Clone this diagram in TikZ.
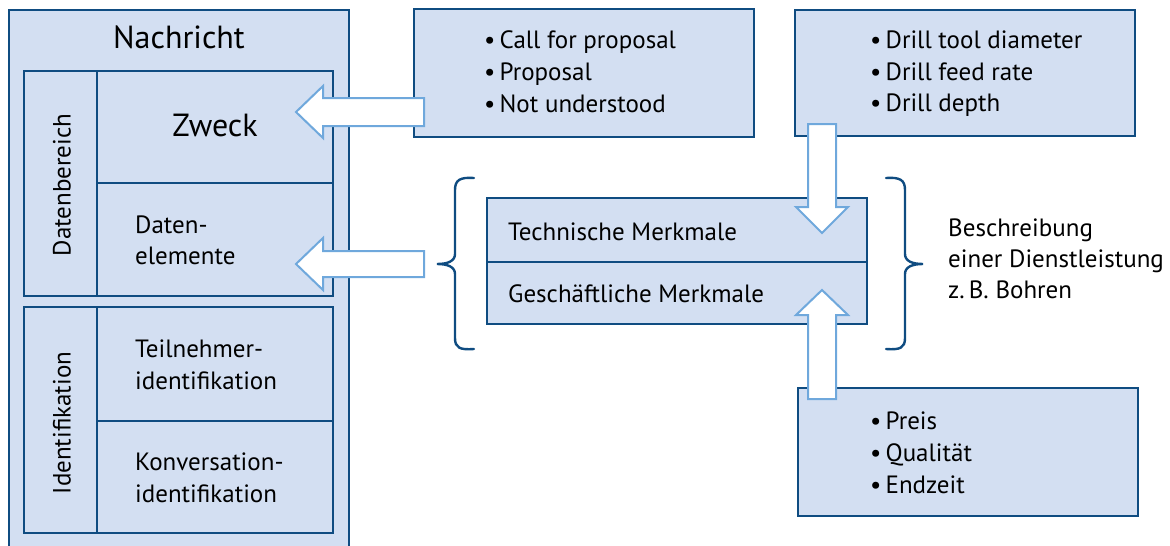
\documentclass[tikz,border=0pt]{standalone}
\usepackage{fontspec}
\setmainfont{PT Sans}
\definecolor{boxfill}{HTML}{D3DFF2}
\definecolor{boxline}{HTML}{0F4C81}
\definecolor{arrowline}{HTML}{6FA8DC}
\begin{document}
\begin{tikzpicture}[x=1pt,y=-1pt,
  box/.style={draw=boxline, fill=boxfill, line width=2.4pt, inner sep=0pt, outer sep=0pt},
  cell/.style={draw=boxline, line width=2.4pt},
  txt/.style={inner sep=0pt, anchor=base west, font=\fontsize{25}{31}\selectfont},
  vlabel/.style={inner sep=0pt, rotate=90, font=\fontsize{25}{31}\selectfont},
  barrow/.style={draw=arrowline, fill=white, line width=2pt, line join=miter},
  brace/.style={draw=boxline, line width=2.4pt, line cap=round}]
\useasboundingbox (0,0) rectangle (1170,546);

% outer message frame (continues past the lower edge)
\begin{scope}
\clip (0,0) rectangle (1170,546);
\node[box, minimum width=340pt, minimum height=560pt, anchor=north west] (msg) at (9,10) {};
\end{scope}
\node[inner sep=0pt, anchor=base, font=\fontsize{32}{38}\selectfont] (msgtitle) at (179,48) {Nachricht};

% data area
\node[box, minimum width=309pt, minimum height=225pt, anchor=north west] (data) at (24,71) {};
\draw[cell] (97,71) -- (97,296);
\draw[cell] (97,183) -- (333,183);
\node[vlabel] (datalabel) at (62,185) {Datenbereich};
\node[inner sep=0pt, anchor=base, font=\fontsize{32}{38}\selectfont] (zweck) at (215,136) {Zweck};
\node[txt] (daten1) at (135,233) {Daten-};
\node[txt] (daten2) at (135,264) {elemente};

% identification area
\node[box, minimum width=309pt, minimum height=226pt, anchor=north west] (ident) at (24,307) {};
\draw[cell] (97,307) -- (97,533);
\draw[cell] (97,421) -- (333,421);
\node[vlabel] (identlabel) at (62,423) {Identifikation};
\node[txt] (teil1) at (135,357) {Teilnehmer-};
\node[txt] (teil2) at (135,389) {identifikation};
\node[txt] (konv1) at (135,470) {Konversation-};
\node[txt] (konv2) at (135,502) {identifikation};

% performatives
\node[box, minimum width=340pt, minimum height=128pt, anchor=north west] (perf) at (414,9) {};
\node[txt] (perf1) at (484,48) {•\,Call for proposal};
\node[txt] (perf2) at (484,80) {•\,Proposal};
\node[txt] (perf3) at (484,112) {•\,Not understood};

% technical parameters
\node[box, minimum width=340pt, minimum height=126pt, anchor=north west] (drill) at (795,10) {};
\node[txt] (drill1) at (870,48) {•\,Drill tool diameter};
\node[txt] (drill2) at (870,80) {•\,Drill feed rate};
\node[txt] (drill3) at (870,111) {•\,Drill depth};

% commercial parameters
\node[box, minimum width=340pt, minimum height=128pt, anchor=north west] (price) at (798,388) {};
\node[txt] (price1) at (870,429) {•\,Preis};
\node[txt] (price2) at (870,461) {•\,Qualität};
\node[txt] (price3) at (870,493) {•\,Endzeit};

% service description
\node[box, minimum width=380pt, minimum height=126pt, anchor=north west] (service) at (487,198) {};
\draw[cell] (487,262) -- (867,262);
\node[txt] (tech) at (508,240) {Technische Merkmale};
\node[txt] (biz) at (508,302) {Geschäftliche Merkmale};

% braces around the service description
\draw[brace] (474,178) .. controls (460,177) and (455,180) .. (455,190) -- (455,254)
  .. controls (455,261) and (448,264) .. (437,264)
  .. controls (448,264) and (455,267) .. (455,274) -- (455,338)
  .. controls (455,348) and (460,350) .. (474,349);
\draw[brace] (886,178) .. controls (900,177) and (905,180) .. (905,190) -- (905,254)
  .. controls (905,261) and (912,264) .. (923,264)
  .. controls (912,264) and (905,267) .. (905,274) -- (905,338)
  .. controls (905,348) and (900,350) .. (886,349);
\node[txt] (desc1) at (948,236) {Beschreibung};
\node[txt] (desc2) at (948,267) {einer Dienstleistung};
\node[txt] (desc3) at (948,298) {z.\,B. Bohren};

% block arrows
\coordinate (tipzweck) at (296,112);
\draw[barrow] (tipzweck) -- ++(27,-26) -- ++(0,12) -- ++(101,0) -- ++(0,28)
  -- ++(-101,0) -- ++(0,12) -- cycle;
\coordinate (tipdaten) at (296,264);
\draw[barrow] (tipdaten) -- ++(27,-26) -- ++(0,13) -- ++(101,0) -- ++(0,26)
  -- ++(-101,0) -- ++(0,13) -- cycle;
\coordinate (tiptech) at (822,233);
\draw[barrow] (tiptech) -- ++(-26,-26) -- ++(12,0) -- ++(0,-83) -- ++(28,0)
  -- ++(0,83) -- ++(12,0) -- cycle;
\coordinate (tipbiz) at (822,290);
\draw[barrow] (tipbiz) -- ++(-26,25) -- ++(12,0) -- ++(0,84) -- ++(28,0)
  -- ++(0,-84) -- ++(12,0) -- cycle;
\end{tikzpicture}
\end{document}
